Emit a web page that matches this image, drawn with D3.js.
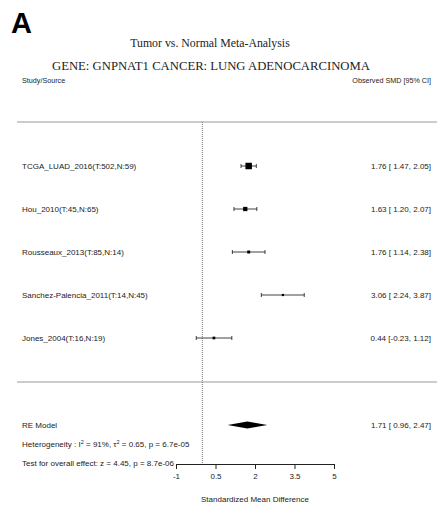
<!DOCTYPE html>
<html>
<head>
<meta charset="utf-8">
<script src="https://cdn.jsdelivr.net/npm/d3@7"></script>
<style>
  body { margin: 0; background: #fff; }
  svg { display: block; }
  text { fill: #222; }
</style>
</head>
<body>
<svg id="chart"></svg>
<script>
// study rows
const studies = [
  "TCGA_LUAD_2016(T:502,N:59)",
  "Hou_2010(T:45,N:65)",
  "Rousseaux_2013(T:85,N:14)",
  "Sanchez-Palencia_2011(T:14,N:45)",
  "Jones_2004(T:16,N:19)"
];
const smd = [1.76, 1.63, 1.76, 3.06, 0.44];
const ciLow = [1.47, 1.20, 1.14, 2.24, -0.23];
const ciHigh = [2.05, 2.07, 2.38, 3.87, 1.12];

// random-effects summary
const reEst = 1.71;
const reLow = 0.96;
const reHigh = 2.47;

const tickVals = [-1, 0.5, 2, 3.5, 5];

const width = 437;
const height = 506;

const svg = d3.select("#chart")
  .attr("width", width)
  .attr("height", height);

const sans = "Liberation Sans, Arial, sans-serif";
const serif = "Liberation Serif, Times New Roman, serif";
const fs = 8;

// scales
const x = d3.scaleLinear().domain([-1, 5]).range([176, 334]);
const y = d3.scalePoint().domain(studies).range([166, 338]);

// square size from inverse standard error
const invSe = studies.map((s, i) => 3.92 / (ciHigh[i] - ciLow[i]));
const size = d3.scaleLinear().domain(d3.extent(invSe)).range([2.2, 6.5]);

const rows = studies.map((s, i) => ({
  name: s, est: smd[i], lo: ciLow[i], hi: ciHigh[i], w: invSe[i]
}));

// panel letter + titles
svg.append("text").attr("x", 11).attr("y", 33)
  .attr("font-family", sans).attr("font-weight", "bold")
  .attr("font-size", 29).style("fill", "#000").text("A");

svg.append("text").attr("x", 210).attr("y", 47)
  .attr("text-anchor", "middle").attr("font-family", serif)
  .attr("font-size", 11.8).text("Tumor vs. Normal Meta-Analysis");

svg.append("text").attr("x", 211).attr("y", 70)
  .attr("text-anchor", "middle").attr("font-family", serif)
  .attr("font-size", 12.7).text("GENE: GNPNAT1 CANCER: LUNG ADENOCARCINOMA");

svg.append("text").attr("x", 22).attr("y", 83)
  .attr("font-family", sans).attr("font-size", 7.2).text("Study/Source");

svg.append("text").attr("x", 431).attr("y", 83).attr("text-anchor", "end")
  .attr("font-family", sans).attr("font-size", 7.2).text("Observed SMD [95% CI]");

// horizontal separators
[122, 382].forEach(yy => {
  svg.append("line")
    .attr("x1", 17).attr("x2", width)
    .attr("y1", yy).attr("y2", yy)
    .attr("stroke", "#999").attr("stroke-width", 1);
});

// reference line at 0
svg.append("line")
  .attr("x1", x(0)).attr("x2", x(0))
  .attr("y1", 122).attr("y2", 464)
  .attr("stroke", "#777").attr("stroke-width", 1)
  .attr("stroke-dasharray", "1,1");

const fmt = v => v.toFixed(2);
const pad = v => (v < 0 ? "" : " ") + fmt(v);
const ciText = (e, l, h) => `${fmt(e)} [${pad(l)}, ${fmt(h)}]`;

const g = svg.selectAll(".study")
  .data(rows)
  .enter()
  .append("g")
  .attr("class", "study");

g.append("text")
  .attr("x", 22).attr("y", d => y(d.name) + 3)
  .attr("font-family", sans).attr("font-size", fs)
  .text(d => d.name);

g.append("line")
  .attr("x1", d => x(d.lo)).attr("x2", d => x(d.hi))
  .attr("y1", d => y(d.name)).attr("y2", d => y(d.name))
  .attr("stroke", "#111").attr("stroke-width", 0.8);

g.append("line")
  .attr("x1", d => x(d.lo)).attr("x2", d => x(d.lo))
  .attr("y1", d => y(d.name) - 2).attr("y2", d => y(d.name) + 2)
  .attr("stroke", "#111").attr("stroke-width", 0.8);

g.append("line")
  .attr("x1", d => x(d.hi)).attr("x2", d => x(d.hi))
  .attr("y1", d => y(d.name) - 2).attr("y2", d => y(d.name) + 2)
  .attr("stroke", "#111").attr("stroke-width", 0.8);

g.append("rect")
  .attr("x", d => x(d.est) - size(d.w) / 2)
  .attr("y", d => y(d.name) - size(d.w) / 2)
  .attr("width", d => size(d.w))
  .attr("height", d => size(d.w))
  .attr("fill", "#000");

g.append("text")
  .attr("x", 431).attr("y", d => y(d.name) + 3).attr("text-anchor", "end")
  .attr("font-family", sans).attr("font-size", fs)
  .text(d => ciText(d.est, d.lo, d.hi));

// RE model
const reY = 425;
svg.append("text").attr("x", 22).attr("y", reY + 3)
  .attr("font-family", sans).attr("font-size", fs).text("RE Model");

svg.append("path")
  .attr("d", `M${x(reLow)},${reY} L${x(reEst)},${reY - 3.5} L${x(reHigh)},${reY} L${x(reEst)},${reY + 3.5} Z`)
  .attr("fill", "#000");

svg.append("text").attr("x", 431).attr("y", reY + 3).attr("text-anchor", "end")
  .attr("font-family", sans).attr("font-size", fs)
  .text(ciText(reEst, reLow, reHigh));

// heterogeneity line with superscripts
const het = svg.append("text").attr("x", 22).attr("y", 447)
  .attr("font-family", sans).attr("font-size", fs);
het.append("tspan").text("Heterogeneity : I");
het.append("tspan").attr("dy", -3).attr("font-size", 5.5).text("2");
het.append("tspan").attr("dy", 3).text(" = 91%, \u03c4");
het.append("tspan").attr("dy", -3).attr("font-size", 5.5).text("2");
het.append("tspan").attr("dy", 3).text(" = 0.65, p = 6.7e-05");

svg.append("text").attr("x", 22).attr("y", 466)
  .attr("font-family", sans).attr("font-size", fs)
  .text("Test for overall effect: z = 4.45, p = 8.7e-06");

// axis
const axis = svg.append("g")
  .attr("transform", "translate(0,464)")
  .call(d3.axisBottom(x).tickValues(tickVals).tickSize(5).tickSizeOuter(0)
    .tickFormat(d => String(d)));

axis.select(".domain").attr("stroke", "#222");
axis.selectAll(".tick line").attr("stroke", "#222");
axis.selectAll(".tick text")
  .attr("font-family", sans).attr("font-size", fs)
  .attr("y", 15).attr("dy", 0).style("fill", "#222");

svg.append("text").attr("x", x(2)).attr("y", 502).attr("text-anchor", "middle")
  .attr("font-family", sans).attr("font-size", fs)
  .text("Standardized Mean Difference");
</script>
</body>
</html>
